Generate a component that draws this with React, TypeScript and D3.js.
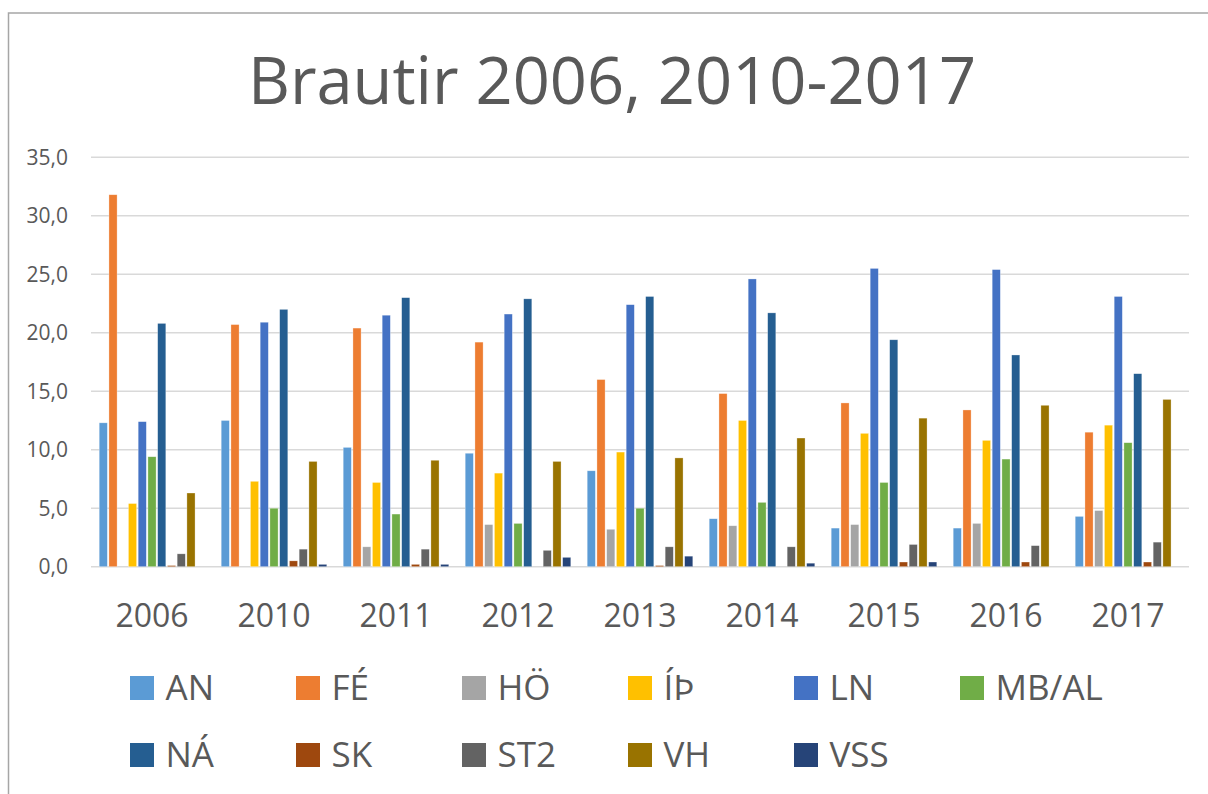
import React from "react";
import * as d3 from "d3";

const categories = ["2006", "2010", "2011", "2012", "2013", "2014", "2015", "2016", "2017"];
const seriesNames = ["AN", "FÉ", "HÖ", "ÍÞ", "LN", "MB/AL", "NÁ", "SK", "ST2", "VH", "VSS"];
const seriesColors = ["#5B9BD5", "#ED7D31", "#A5A5A5", "#FFC000", "#4472C4", "#70AD47", "#255E91", "#9E480E", "#636363", "#997300", "#264478"];

const AN = [12.3, 12.5, 10.2, 9.7, 8.2, 4.1, 3.3, 3.3, 4.3];
const FE = [31.8, 20.7, 20.4, 19.2, 16.0, 14.8, 14.0, 13.4, 11.5];
const HO = [0, 0, 1.7, 3.6, 3.2, 3.5, 3.6, 3.7, 4.8];
const IT = [5.4, 7.3, 7.2, 8.0, 9.8, 12.5, 11.4, 10.8, 12.1];
const LN = [12.4, 20.9, 21.5, 21.6, 22.4, 24.6, 25.5, 25.4, 23.1];
const MBAL = [9.4, 5.0, 4.5, 3.7, 5.0, 5.5, 7.2, 9.2, 10.6];
const NA = [20.8, 22.0, 23.0, 22.9, 23.1, 21.7, 19.4, 18.1, 16.5];
const SK = [0.1, 0.5, 0.2, 0, 0.1, 0, 0.4, 0.4, 0.4];
const ST2 = [1.1, 1.5, 1.5, 1.4, 1.7, 1.7, 1.9, 1.8, 2.1];
const VH = [6.3, 9.0, 9.1, 9.0, 9.3, 11.0, 12.7, 13.8, 14.3];
const VSS = [0, 0.2, 0.2, 0.8, 0.9, 0.3, 0.4, 0, 0];

const seriesValues = [AN, FE, HO, IT, LN, MBAL, NA, SK, ST2, VH, VSS];
const yTicks = [0, 5, 10, 15, 20, 25, 30, 35];
const title = "Brautir 2006, 2010-2017";

const FONT = "'Open Sans', 'Noto Sans', sans-serif";
const TEXT = "#595959";

export default function App() {
  const plotLeft = 91;
  const plotRight = 1189;
  const x0 = d3.scaleBand<string>().domain(categories).range([plotLeft, plotRight]).paddingInner(0).paddingOuter(0);
  const bw = x0.bandwidth();
  const x1 = d3.scaleBand<string>().domain(seriesNames).range([8.2, bw - 6.6]);
  const y = d3.scaleLinear().domain([0, 35]).range([566.7, 157.3]);
  const fmt = (v: number) => d3.format(".1f")(v).replace(".", ",");

  const legendX0 = 130;
  const legendDx = 166;
  const legendRows = [676, 743];

  return (
    <svg
      width={1208}
      height={794}
      style={{ position: "absolute", left: 0, top: 0, background: "#fff", display: "block" }}
      fontFamily={FONT}
    >
      <rect x={0} y={0} width={1208} height={794} fill="#fff" />
      <path d="M8.5,800 V13 H1220" fill="none" stroke="#A6A6A6" strokeWidth={1.5} />
      <text x={612} y={104} textAnchor="middle" fontSize={65} fontWeight={400} fill={TEXT}>
        {title}
      </text>
      {yTicks.map((t) => (
        <g key={t}>
          <line x1={plotLeft} x2={plotRight} y1={y(t)} y2={y(t)} stroke="#D9D9D9" strokeWidth={1.5} />
          <text x={68} y={y(t)} dy="0.36em" textAnchor="end" fontSize={21} fill={TEXT}>
            {fmt(t)}
          </text>
        </g>
      ))}
      {categories.map((c, ci) => (
        <g key={c} transform={`translate(${x0(c)},0)`}>
          {seriesNames.map((s, si) => {
            const v = seriesValues[si][ci];
            if (!v) return null;
            const yy = y(v);
            return (
              <rect
                key={s}
                x={x1(s)!}
                y={yy}
                width={x1.bandwidth() - 1.6}
                height={y(0) - yy}
                fill={seriesColors[si]}
                stroke="#fff"
                strokeOpacity={0.5}
                strokeWidth={0.6}
              />
            );
          })}
          <text x={bw / 2} y={627} textAnchor="middle" fontSize={32} fill={TEXT}>
            {c}
          </text>
        </g>
      ))}
      {seriesNames.map((s, i) => {
        const row = Math.floor(i / 6);
        const col = i % 6;
        const lx = legendX0 + col * legendDx;
        const ly = legendRows[row];
        return (
          <g key={s}>
            <rect x={lx} y={ly} width={24} height={24} fill={seriesColors[i]} />
            <text x={lx + 35.5} y={ly + 24} fontSize={35} fill={TEXT}>
              {s}
            </text>
          </g>
        );
      })}
    </svg>
  );
}
